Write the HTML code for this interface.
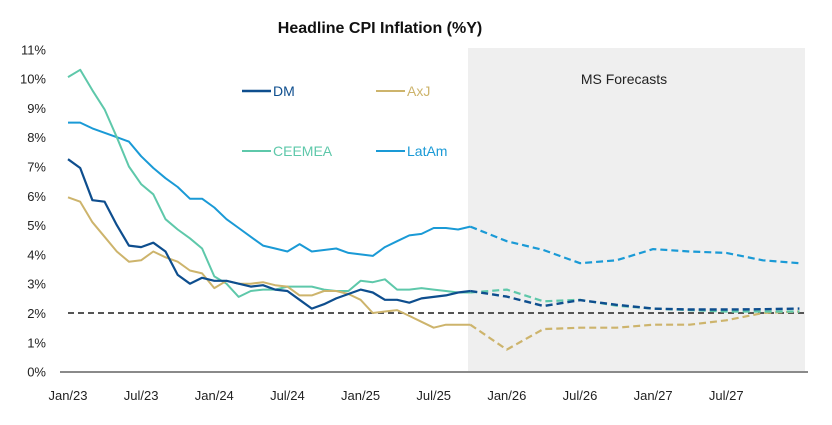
<!DOCTYPE html>
<html><head><meta charset="utf-8"><style>
body{margin:0;background:#fff;}
svg{display:block;font-family:"Liberation Sans",sans-serif;}
</style></head><body>
<svg id="c" width="832" height="425" viewBox="0 0 832 425">
<rect x="468" y="48" width="337" height="324" fill="#efefef"/>
<text x="380" y="33" text-anchor="middle" font-size="16" font-weight="bold" fill="#111">Headline CPI Inflation (%Y)</text>
<text x="624" y="84" text-anchor="middle" font-size="14" fill="#222">MS Forecasts</text>
<g id="yt"></g><g id="xt"></g><g id="lines"></g>
<g>
<line x1="242" y1="91" x2="271" y2="91" stroke="#0e4e8e" stroke-width="2.5"/><text x="273" y="96" font-size="14" fill="#0e4e8e">DM</text>
<line x1="376" y1="91" x2="405" y2="91" stroke="#cdb46c" stroke-width="2"/><text x="407" y="96" font-size="14" fill="#cdb46c">AxJ</text>
<line x1="242" y1="151" x2="271" y2="151" stroke="#5ec8aa" stroke-width="2"/><text x="273" y="156" font-size="14" fill="#5ec8aa">CEEMEA</text>
<line x1="376" y1="151" x2="405" y2="151" stroke="#1a9ad6" stroke-width="2"/><text x="407" y="156" font-size="14" fill="#1a9ad6">LatAm</text>
</g>
</svg>
<script>
const yTicks=[0,1,2,3,4,5,6,7,8,9,10,11];
const xLabels=["Jan/23","Jul/23","Jan/24","Jul/24","Jan/25","Jul/25","Jan/26","Jul/26","Jan/27","Jul/27"];
const dmActual=[7.25,6.95,5.85,5.8,5.0,4.3,4.25,4.4,4.1,3.3,3.0,3.2,3.1,3.1,3.0,2.9,2.95,2.8,2.75,2.45,2.15,2.3,2.5,2.65,2.8,2.7,2.45,2.45,2.35,2.5,2.55,2.6,2.7,2.75];
const axjActual=[5.95,5.8,5.1,4.6,4.1,3.75,3.8,4.1,3.9,3.75,3.45,3.35,2.85,3.1,3.0,3.0,3.05,2.95,2.9,2.6,2.6,2.75,2.75,2.65,2.45,2.0,2.05,2.1,1.9,1.7,1.5,1.6,1.6,1.6];
const ceemeaActual=[10.05,10.3,9.6,8.95,8.0,7.0,6.4,6.05,5.2,4.85,4.55,4.2,3.25,3.0,2.55,2.75,2.8,2.8,2.9,2.9,2.9,2.8,2.75,2.75,3.1,3.05,3.15,2.8,2.8,2.85,2.8,2.75,2.7,2.7];
const latamActual=[8.5,8.5,8.3,8.15,8.0,7.85,7.35,6.95,6.6,6.3,5.9,5.9,5.6,5.2,4.9,4.6,4.3,4.2,4.1,4.35,4.1,4.15,4.2,4.05,4.0,3.95,4.25,4.45,4.65,4.7,4.9,4.9,4.85,4.95];
const dmForecast=[2.75,2.56,2.24,2.44,2.28,2.15,2.12,2.12,2.13,2.15];
const axjForecast=[1.6,0.75,1.45,1.5,1.5,1.6,1.6,1.75,2.0,2.05];
const ceemeaForecast=[2.7,2.8,2.4,2.45,2.25,2.15,2.1,2.05,2.05,2.05];
const latamForecast=[4.95,4.45,4.15,3.7,3.8,4.18,4.1,4.05,3.8,3.7];
const target=2;
const NS="http://www.w3.org/2000/svg";
const x=m=>68+m*12.19;
const y=v=>371.6-v*29.3;
function mk(tag,attrs,parent){const e=document.createElementNS(NS,tag);for(const k in attrs)e.setAttribute(k,attrs[k]);parent.appendChild(e);return e;}
const yt=document.getElementById('yt'),xt=document.getElementById('xt'),lines=document.getElementById('lines');
yTicks.forEach(v=>{const t=mk('text',{x:46,y:y(v)+5,'text-anchor':'end','font-size':13,fill:'#222'},yt);t.textContent=v+'%';

});
xLabels.forEach((l,i)=>{const t=mk('text',{x:x(i*6),y:400,'text-anchor':'middle','font-size':13,fill:'#222'},xt);t.textContent=l;

});
const ax=mk('line',{x1:60,x2:808,y1:372,y2:372,stroke:'#8a8a8a','stroke-width':2},lines);


const tl=mk('line',{x1:x(0),x2:805,y1:y(target),y2:y(target),stroke:'#555','stroke-width':2,'stroke-dasharray':'6,4'},lines);


function series(vals,start,step,color,dash,name,w){
 const d=vals.map((v,i)=>(i?'L':'M')+x(start+i*step).toFixed(1)+','+y(v).toFixed(1)).join(' ');
 const p=mk('path',{d:d,fill:'none',stroke:color,'stroke-width':w,'stroke-linejoin':'round'},lines);
 if(dash)p.setAttribute('stroke-dasharray','7,4');
 
 
}
const lastA=latamActual.length-1;
series(latamForecast,lastA,3,'#1a9ad6',true,'latam-forecast-line',2.2);
series(axjForecast,lastA,3,'#cdb46c',true,'axj-forecast-line',2.2);
series(ceemeaForecast,lastA,3,'#5ec8aa',true,'ceemea-forecast-line',2.2);
series(dmForecast,lastA,3,'#0e4e8e',true,'dm-forecast-line',2.4);
series(latamActual,0,1,'#1a9ad6',false,'latam-line',2);
series(ceemeaActual,0,1,'#5ec8aa',false,'ceemea-line',2);
series(axjActual,0,1,'#cdb46c',false,'axj-line',2);
series(dmActual,0,1,'#0e4e8e',false,'dm-line',2.2);
</script>
</body></html>
